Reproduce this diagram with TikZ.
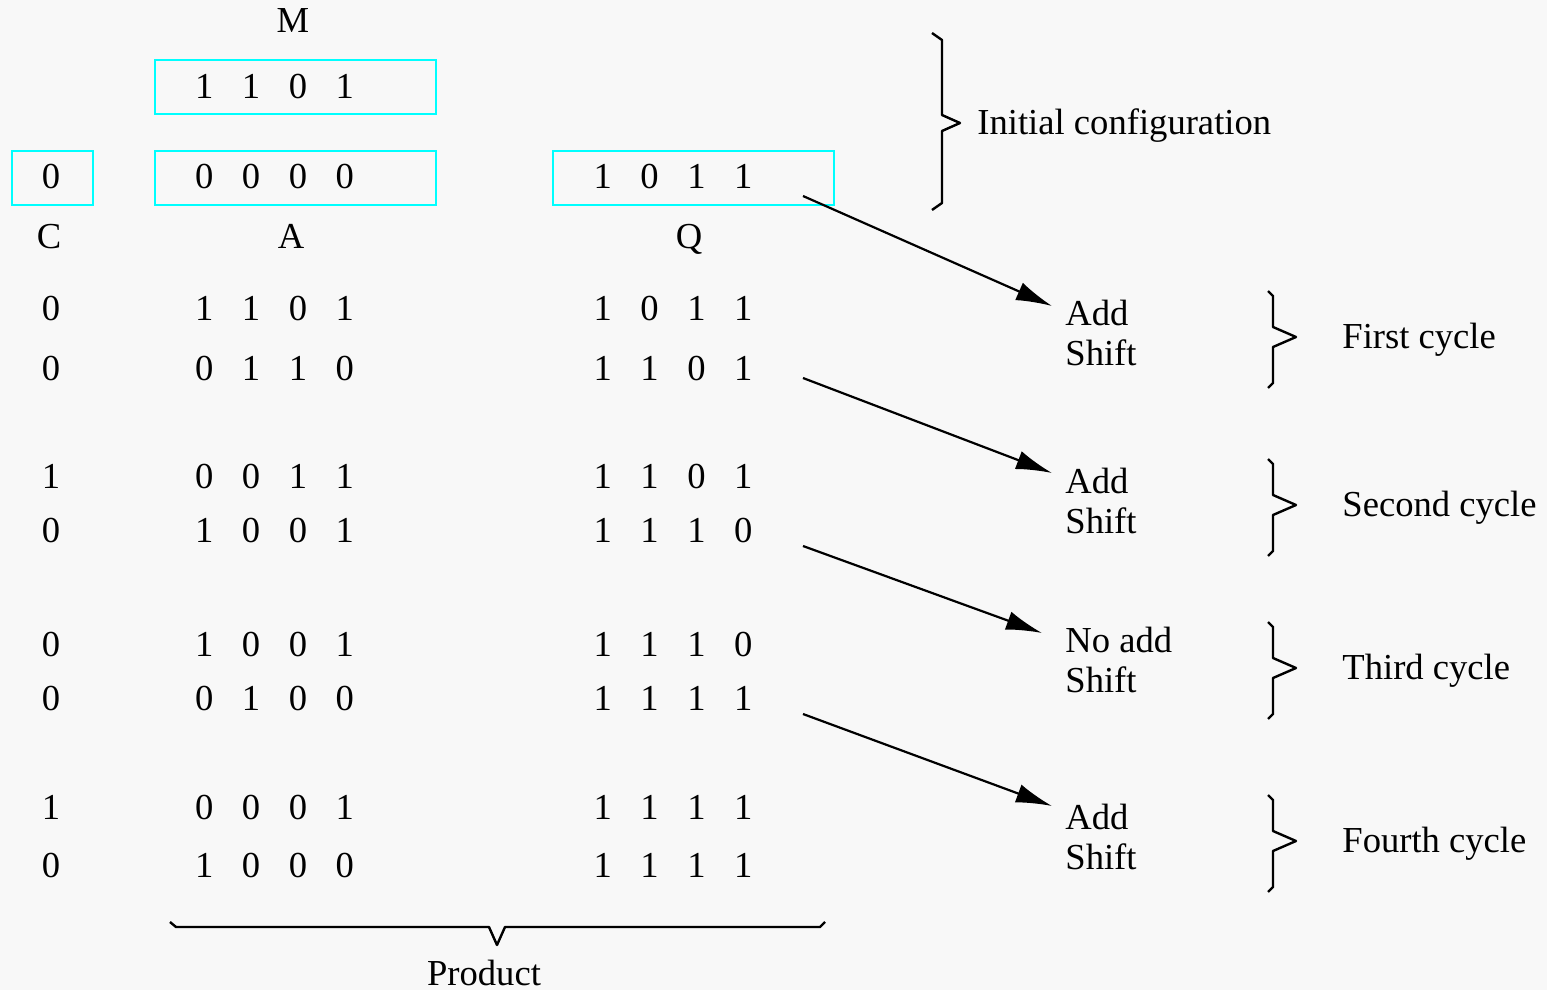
\documentclass[tikz,border=0pt]{standalone}
\usepackage{fontspec}
\setmainfont{Liberation Serif}
\usetikzlibrary{arrows.meta}
\definecolor{bgc}{RGB}{248,248,248}
\definecolor{boxc}{RGB}{0,255,255}
\newcommand\bitrow[4]{#1\hspace{14.3pt}#2\hspace{14.3pt}#3\hspace{14.3pt}#4}
\begin{document}
\begin{tikzpicture}[x=0.5pt,y=-0.5pt,
  t/.style={font=\fontsize{18.3}{22}\selectfont, inner sep=0pt, anchor=base},
  tl/.style={t, anchor=base west},
  regbox/.style={draw=boxc, line width=1pt, inner sep=0pt, minimum height=27pt},
  arr/.style={-{Latex[length=18pt,width=9.5pt]}, line width=1.1pt},
  brc/.style={line width=1.2pt, line join=round}]
\fill[bgc] (0,0) rectangle (1547,990);
\useasboundingbox (0,0) rectangle (1547,990);

% registers
\node[regbox, minimum width=140.5pt] (Mbox) at (295.5,87) {};
\node[regbox, minimum width=40.5pt] (Cbox) at (52.5,178) {};
\node[regbox, minimum width=140.5pt] (Abox) at (295.5,178) {};
\node[regbox, minimum width=140.5pt] (Qbox) at (693.5,178) {};

\node[t] (Mlab) at (293,33) {M};
\node[t] (Mval) at (274.5,98) {\bitrow1101};
\node[t] (C0) at (51,188) {0};
\node[t] (A0) at (274.5,188) {\bitrow0000};
\node[t] (Q0) at (673,188) {\bitrow1011};
\node[t] (Clab) at (49,248) {C};
\node[t] (Alab) at (291,248) {A};
\node[t] (Qlab) at (689,248) {Q};

% rows
\node[t] (C1) at (51,320) {0};
\node[t] (A1) at (274.5,320) {\bitrow1101};
\node[t] (Q1) at (673,320) {\bitrow1011};
\node[t] (C2) at (51,380) {0};
\node[t] (A2) at (274.5,380) {\bitrow0110};
\node[t] (Q2) at (673,380) {\bitrow1101};

\node[t] (C3) at (51,488) {1};
\node[t] (A3) at (274.5,488) {\bitrow0011};
\node[t] (Q3) at (673,488) {\bitrow1101};
\node[t] (C4) at (51,542) {0};
\node[t] (A4) at (274.5,542) {\bitrow1001};
\node[t] (Q4) at (673,542) {\bitrow1110};

\node[t] (C5) at (51,656) {0};
\node[t] (A5) at (274.5,656) {\bitrow1001};
\node[t] (Q5) at (673,656) {\bitrow1110};
\node[t] (C6) at (51,710) {0};
\node[t] (A6) at (274.5,710) {\bitrow0100};
\node[t] (Q6) at (673,710) {\bitrow1111};

\node[t] (C7) at (51,819) {1};
\node[t] (A7) at (274.5,819) {\bitrow0001};
\node[t] (Q7) at (673,819) {\bitrow1111};
\node[t] (C8) at (51,877) {0};
\node[t] (A8) at (274.5,877) {\bitrow1000};
\node[t] (Q8) at (673,877) {\bitrow1111};

% operations
\node[tl] (op1a) at (1065,325) {Add};
\node[tl] (op1b) at (1065,365) {Shift};
\node[tl] (op2a) at (1065,493) {Add};
\node[tl] (op2b) at (1065,533) {Shift};
\node[tl] (op3a) at (1065,652) {No add};
\node[tl] (op3b) at (1065,692) {Shift};
\node[tl] (op4a) at (1065,829) {Add};
\node[tl] (op4b) at (1065,869) {Shift};

% cycle labels
\node[tl] (init) at (977,134) {Initial configuration};
\node[tl] (cyc1) at (1342,348) {First cycle};
\node[tl] (cyc2) at (1342,516) {Second cycle};
\node[tl] (cyc3) at (1342,679) {Third cycle};
\node[tl] (cyc4) at (1342,852) {Fourth cycle};
\node[t] (prod) at (484,985) {Product};

% arrows
\coordinate (s1) at (803,196); \coordinate (e1) at (1052,306);
\coordinate (s2) at (803,378); \coordinate (e2) at (1052,473);
\coordinate (s3) at (803,546); \coordinate (e3) at (1042,633);
\coordinate (s4) at (803,714); \coordinate (e4) at (1052,806);
\draw[arr] (s1) -- (e1);
\draw[arr] (s2) -- (e2);
\draw[arr] (s3) -- (e3);
\draw[arr] (s4) -- (e4);

% braces
\draw[brc] (932,33) -- (942,40) -- (942,115) -- (960,123) -- (942,131) -- (942,203) -- (932,210);
\foreach \yc in {337,505,668,841}{
  \draw[brc] (1268,\yc-46) -- (1273,\yc-41) -- (1273,\yc-10) -- (1296,\yc) -- (1273,\yc+10) -- (1273,\yc+46) -- (1268,\yc+51);
}
\draw[brc] (170,922) -- (176,927) -- (489,927) -- (497,945) -- (505,927) -- (820,927) -- (825,922);
\end{tikzpicture}
\end{document}
